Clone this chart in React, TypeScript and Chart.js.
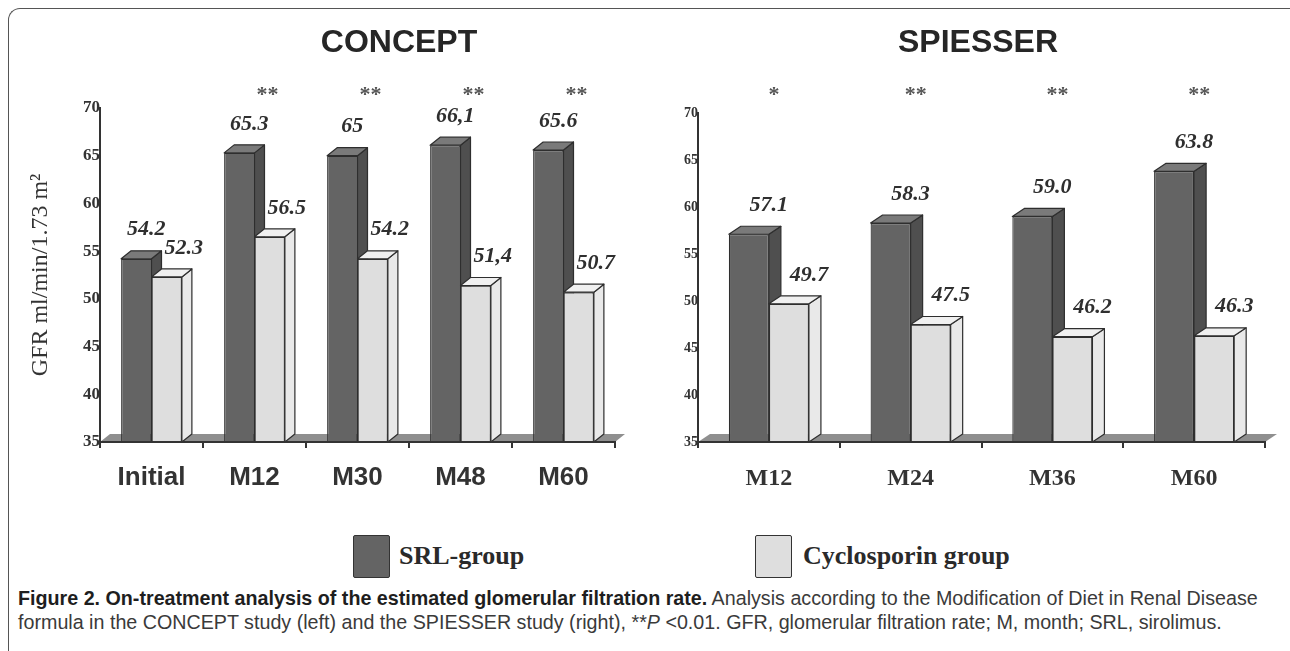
import React, { useEffect, useRef } from 'react';
import { Chart, registerables } from 'chart.js';

Chart.register(...registerables);

// ---------- DATA ----------
const CONCEPT_CATEGORIES = ['Initial', 'M12', 'M30', 'M48', 'M60'];
const CONCEPT_SRL = [54.2, 65.3, 65.0, 66.1, 65.6];
const CONCEPT_CSA = [52.3, 56.5, 54.2, 51.4, 50.7];
const CONCEPT_SRL_LABELS = ['54.2', '65.3', '65', '66,1', '65.6'];
const CONCEPT_CSA_LABELS = ['52.3', '56.5', '54.2', '51,4', '50.7'];
const CONCEPT_STARS = ['', '**', '**', '**', '**'];

const SPIESSER_CATEGORIES = ['M12', 'M24', 'M36', 'M60'];
const SPIESSER_SRL = [57.1, 58.3, 59.0, 63.8];
const SPIESSER_CSA = [49.7, 47.5, 46.2, 46.3];
const SPIESSER_SRL_LABELS = ['57.1', '58.3', '59.0', '63.8'];
const SPIESSER_CSA_LABELS = ['49.7', '47.5', '46.2', '46.3'];
const SPIESSER_STARS = ['*', '**', '**', '**'];

const Y_MIN = 35;
const Y_MAX = 70;
const Y_STEP = 5;
const SERIES_NAMES = ['SRL-group', 'Cyclosporin group'];
const Y_TITLE = 'GFR ml/min/1.73 m²';

// ---------- STYLE ----------
const DARK = '#646464';
const DARK_SIDE = '#4f4f4f';
const DARK_TOP = '#7a7a7a';
const LIGHT = '#dedede';
const LIGHT_SIDE = '#e9e9e9';
const LIGHT_TOP = '#f0f0f0';
const EDGE = '#2e2e2e';

type PanelCfg = {
  left: number;
  width: number;
  height: number;
  title: string;
  titleX: number;
  titleY: number;
  categories: string[];
  srl: number[];
  csa: number[];
  srlLabels: string[];
  csaLabels: string[];
  stars: string[];
  yAxisWidth: number;
  padRight: number;
  padTop: number;
  xAxisHeight: number;
  categoryPercentage: number;
  depthX: number;
  depthY: number;
  yTickFont: any;
  xTickFont: any;
  xTickPadding: number;
  showYTitle: boolean;
  darkLabelOff: [number, number];
  lightLabelOff: [number, number];
  starOff: number;
  starY: number;
};

function drawFaces(chart: any, dsIndex: number, dx: number, dy: number) {
  const meta = chart.getDatasetMeta(dsIndex);
  const ctx = chart.ctx;
  const bottom = chart.chartArea.bottom;
  const side = dsIndex === 0 ? DARK_SIDE : LIGHT_SIDE;
  const top = dsIndex === 0 ? DARK_TOP : LIGHT_TOP;
  ctx.save();
  ctx.lineWidth = 1.2;
  ctx.strokeStyle = EDGE;
  ctx.lineJoin = 'round';
  meta.data.forEach((bar: any) => {
    const p = bar.getProps(['x', 'y', 'base', 'width'], true);
    const base = Math.min(p.base, bottom);
    const l = p.x - p.width / 2;
    const r = p.x + p.width / 2;
    // side face
    ctx.beginPath();
    ctx.moveTo(r, p.y);
    ctx.lineTo(r + dx, p.y - dy);
    ctx.lineTo(r + dx, base - dy);
    ctx.lineTo(r, base);
    ctx.closePath();
    ctx.fillStyle = side;
    ctx.fill();
    ctx.stroke();
    // top face
    ctx.beginPath();
    ctx.moveTo(l, p.y);
    ctx.lineTo(l + dx, p.y - dy);
    ctx.lineTo(r + dx, p.y - dy);
    ctx.lineTo(r, p.y);
    ctx.closePath();
    ctx.fillStyle = top;
    ctx.fill();
    ctx.stroke();
  });
  ctx.restore();
}

function makePlugin(cfg: PanelCfg) {
  return {
    id: 'bar3d',
    beforeDatasetsDraw(chart: any) {
      const { ctx, chartArea } = chart;
      const { left, right, bottom } = chartArea;
      ctx.save();
      ctx.beginPath();
      ctx.moveTo(left, bottom);
      ctx.lineTo(left + cfg.depthX, bottom - cfg.depthY);
      ctx.lineTo(right + cfg.depthX, bottom - cfg.depthY);
      ctx.lineTo(right, bottom);
      ctx.closePath();
      ctx.fillStyle = '#8f8f8f';
      ctx.fill();
      ctx.restore();
    },
    afterDatasetsDraw(chart: any) {
      const ctx = chart.ctx;
      const area = chart.chartArea;
      // dark bar side/top faces
      drawFaces(chart, 0, cfg.depthX, cfg.depthY);
      // light bars in front of the dark side faces
      ctx.save();
      ctx.beginPath();
      ctx.rect(area.left, area.top, area.right - area.left, area.bottom - area.top);
      ctx.clip();
      chart.getDatasetMeta(1).data.forEach((el: any) => el.draw(ctx));
      ctx.restore();
      drawFaces(chart, 1, cfg.depthX, cfg.depthY);

      // value labels
      ctx.save();
      ctx.fillStyle = '#2f2f2f';
      ctx.textAlign = 'center';
      ctx.textBaseline = 'middle';
      ctx.font = 'italic bold 22px "Liberation Serif", serif';
      const m0 = chart.getDatasetMeta(0);
      const m1 = chart.getDatasetMeta(1);
      m0.data.forEach((bar: any, i: number) => {
        ctx.fillText(cfg.srlLabels[i], bar.x + cfg.darkLabelOff[0], bar.y + cfg.darkLabelOff[1]);
      });
      m1.data.forEach((bar: any, i: number) => {
        ctx.fillText(cfg.csaLabels[i], bar.x + cfg.lightLabelOff[0], bar.y + cfg.lightLabelOff[1]);
      });
      // significance stars
      const xs = chart.scales.x;
      ctx.fillStyle = '#555';
      ctx.font = 'bold 22px "Liberation Serif", serif';
      cfg.stars.forEach((s: string, i: number) => {
        if (!s) return;
        ctx.fillText(s, xs.getPixelForValue(i) + cfg.starOff, cfg.starY);
      });
      // panel title
      ctx.fillStyle = '#262626';
      ctx.font = 'bold 32px "Liberation Sans", Arial, sans-serif';
      ctx.fillText(cfg.title, cfg.titleX - cfg.left, cfg.titleY);
      ctx.restore();
    },
  };
}

function Panel({ cfg }: { cfg: PanelCfg }) {
  const ref = useRef<HTMLCanvasElement | null>(null);
  useEffect(() => {
    if (!ref.current) return;
    const chart = new Chart(ref.current, {
      type: 'bar',
      data: {
        labels: cfg.categories,
        datasets: [
          {
            label: SERIES_NAMES[0],
            data: cfg.srl,
            backgroundColor: DARK,
            borderColor: EDGE,
            borderWidth: 1.2,
            borderSkipped: false,
          },
          {
            label: SERIES_NAMES[1],
            data: cfg.csa,
            backgroundColor: LIGHT,
            borderColor: EDGE,
            borderWidth: 1.2,
            borderSkipped: false,
          },
        ],
      } as any,
      options: {
        responsive: false,
        animation: false,
        layout: { padding: { left: 0, right: cfg.padRight, top: cfg.padTop, bottom: 0 } },
        datasets: {
          bar: { categoryPercentage: cfg.categoryPercentage, barPercentage: 1 },
        } as any,
        plugins: {
          legend: { display: false },
          tooltip: { enabled: false },
          title: { display: false },
        },
        scales: {
          x: {
            offset: true,
            grid: {
              display: true,
              drawOnChartArea: false,
              drawTicks: true,
              tickLength: 6,
              color: '#333',
              lineWidth: 2,
              offset: true,
            },
            border: { display: true, color: '#333', width: 2, z: 1 },
            ticks: {
              color: '#333',
              font: cfg.xTickFont,
              padding: cfg.xTickPadding,
              maxRotation: 0,
              autoSkip: false,
            },
            afterFit: (s: any) => {
              s.height = cfg.xAxisHeight;
            },
          },
          y: {
            min: Y_MIN,
            max: Y_MAX,
            grid: { display: false, drawTicks: false },
            border: { display: true, color: '#333', width: 2 },
            ticks: {
              stepSize: Y_STEP,
              color: '#333',
              font: cfg.yTickFont,
              padding: 0,
            },
            title: {
              display: cfg.showYTitle,
              text: Y_TITLE,
              color: '#333',
              font: { family: '"Liberation Serif", serif', size: 24, weight: 'normal', lineHeight: 1.2 },
              padding: { top: 26, bottom: 0 },
            },
            afterFit: (s: any) => {
              s.width = cfg.yAxisWidth;
            },
          },
        },
      } as any,
      plugins: [makePlugin(cfg)],
    });
    return () => chart.destroy();
  }, []);
  return (
    <canvas
      ref={ref}
      width={cfg.width}
      height={cfg.height}
      style={{ position: 'absolute', left: cfg.left, top: 0, width: cfg.width, height: cfg.height }}
    />
  );
}

const conceptCfg: PanelCfg = {
  left: 0,
  width: 640,
  height: 500,
  title: 'CONCEPT',
  titleX: 399,
  titleY: 43,
  categories: CONCEPT_CATEGORIES,
  srl: CONCEPT_SRL,
  csa: CONCEPT_CSA,
  srlLabels: CONCEPT_SRL_LABELS,
  csaLabels: CONCEPT_CSA_LABELS,
  stars: CONCEPT_STARS,
  yAxisWidth: 100,
  padRight: 25,
  padTop: 108,
  xAxisHeight: 58,
  categoryPercentage: 0.59,
  depthX: 10,
  depthY: 8,
  yTickFont: { family: '"Liberation Serif", serif', size: 17, weight: 'bold' },
  xTickFont: { family: '"Liberation Sans", Arial, sans-serif', size: 26, weight: 'bold', lineHeight: 1.2 },
  xTickPadding: 14,
  showYTitle: true,
  darkLabelOff: [10, -29],
  lightLabelOff: [17, -29],
  starOff: 13,
  starY: 95,
};

const spiesserCfg: PanelCfg = {
  left: 650,
  width: 640,
  height: 500,
  title: 'SPIESSER',
  titleX: 978,
  titleY: 43,
  categories: SPIESSER_CATEGORIES,
  srl: SPIESSER_SRL,
  csa: SPIESSER_CSA,
  srlLabels: SPIESSER_SRL_LABELS,
  csaLabels: SPIESSER_CSA_LABELS,
  stars: SPIESSER_STARS,
  yAxisWidth: 48,
  padRight: 25,
  padTop: 113,
  xAxisHeight: 58,
  categoryPercentage: 0.565,
  depthX: 12,
  depthY: 8,
  yTickFont: { family: '"Liberation Serif", serif', size: 14, weight: 'bold' },
  xTickFont: { family: '"Liberation Serif", serif', size: 24, weight: 'bold', lineHeight: 1.2 },
  xTickPadding: 16,
  showYTitle: false,
  darkLabelOff: [20, -29],
  lightLabelOff: [20, -29],
  starOff: 5,
  starY: 95,
};

export default function App() {
  const captionFont = '"Liberation Sans", Arial, sans-serif';
  return (
    <div style={{ position: 'absolute', left: 0, top: 0, width: 1290, height: 651, background: '#fff', overflow: 'hidden' }}>
      <div
        style={{
          position: 'absolute',
          left: 8,
          top: 8,
          width: 1290,
          height: 660,
          borderTop: '1.5px solid #555',
          borderLeft: '1.5px solid #555',
          borderTopLeftRadius: 12,
        }}
      />
      <Panel cfg={conceptCfg} />
      <Panel cfg={spiesserCfg} />
      {/* legend */}
      <div style={{ position: 'absolute', left: 353, top: 535, width: 35, height: 41, background: DARK, border: '1.5px solid #333', borderRadius: 2 }} />
      <div style={{ position: 'absolute', left: 399, top: 540, fontFamily: '"Liberation Serif", serif', fontWeight: 'bold', fontSize: 26, lineHeight: '32px', color: '#2a2a2a', whiteSpace: 'nowrap' }}>
        {SERIES_NAMES[0]}
      </div>
      <div style={{ position: 'absolute', left: 755, top: 535, width: 35, height: 41, background: LIGHT, border: '1.5px solid #333', borderRadius: 2 }} />
      <div style={{ position: 'absolute', left: 803, top: 540, fontFamily: '"Liberation Serif", serif', fontWeight: 'bold', fontSize: 26, lineHeight: '32px', color: '#2a2a2a', whiteSpace: 'nowrap' }}>
        {SERIES_NAMES[1]}
      </div>
      {/* caption */}
      <div style={{ position: 'absolute', left: 18, top: 586, fontFamily: captionFont, fontSize: 19.7, lineHeight: '24px', color: '#3a3a3a', whiteSpace: 'nowrap' }}>
        <div>
          <span style={{ fontWeight: 'bold', color: '#1e1e1e' }}>Figure 2. On-treatment analysis of the estimated glomerular filtration rate.</span>{' '}
          Analysis according to the Modification of Diet in Renal Disease
        </div>
        <div>
          formula in the CONCEPT study (left) and the SPIESSER study (right), **<i>P</i> &lt;0.01. GFR, glomerular filtration rate; M, month; SRL, sirolimus.
        </div>
      </div>
    </div>
  );
}
